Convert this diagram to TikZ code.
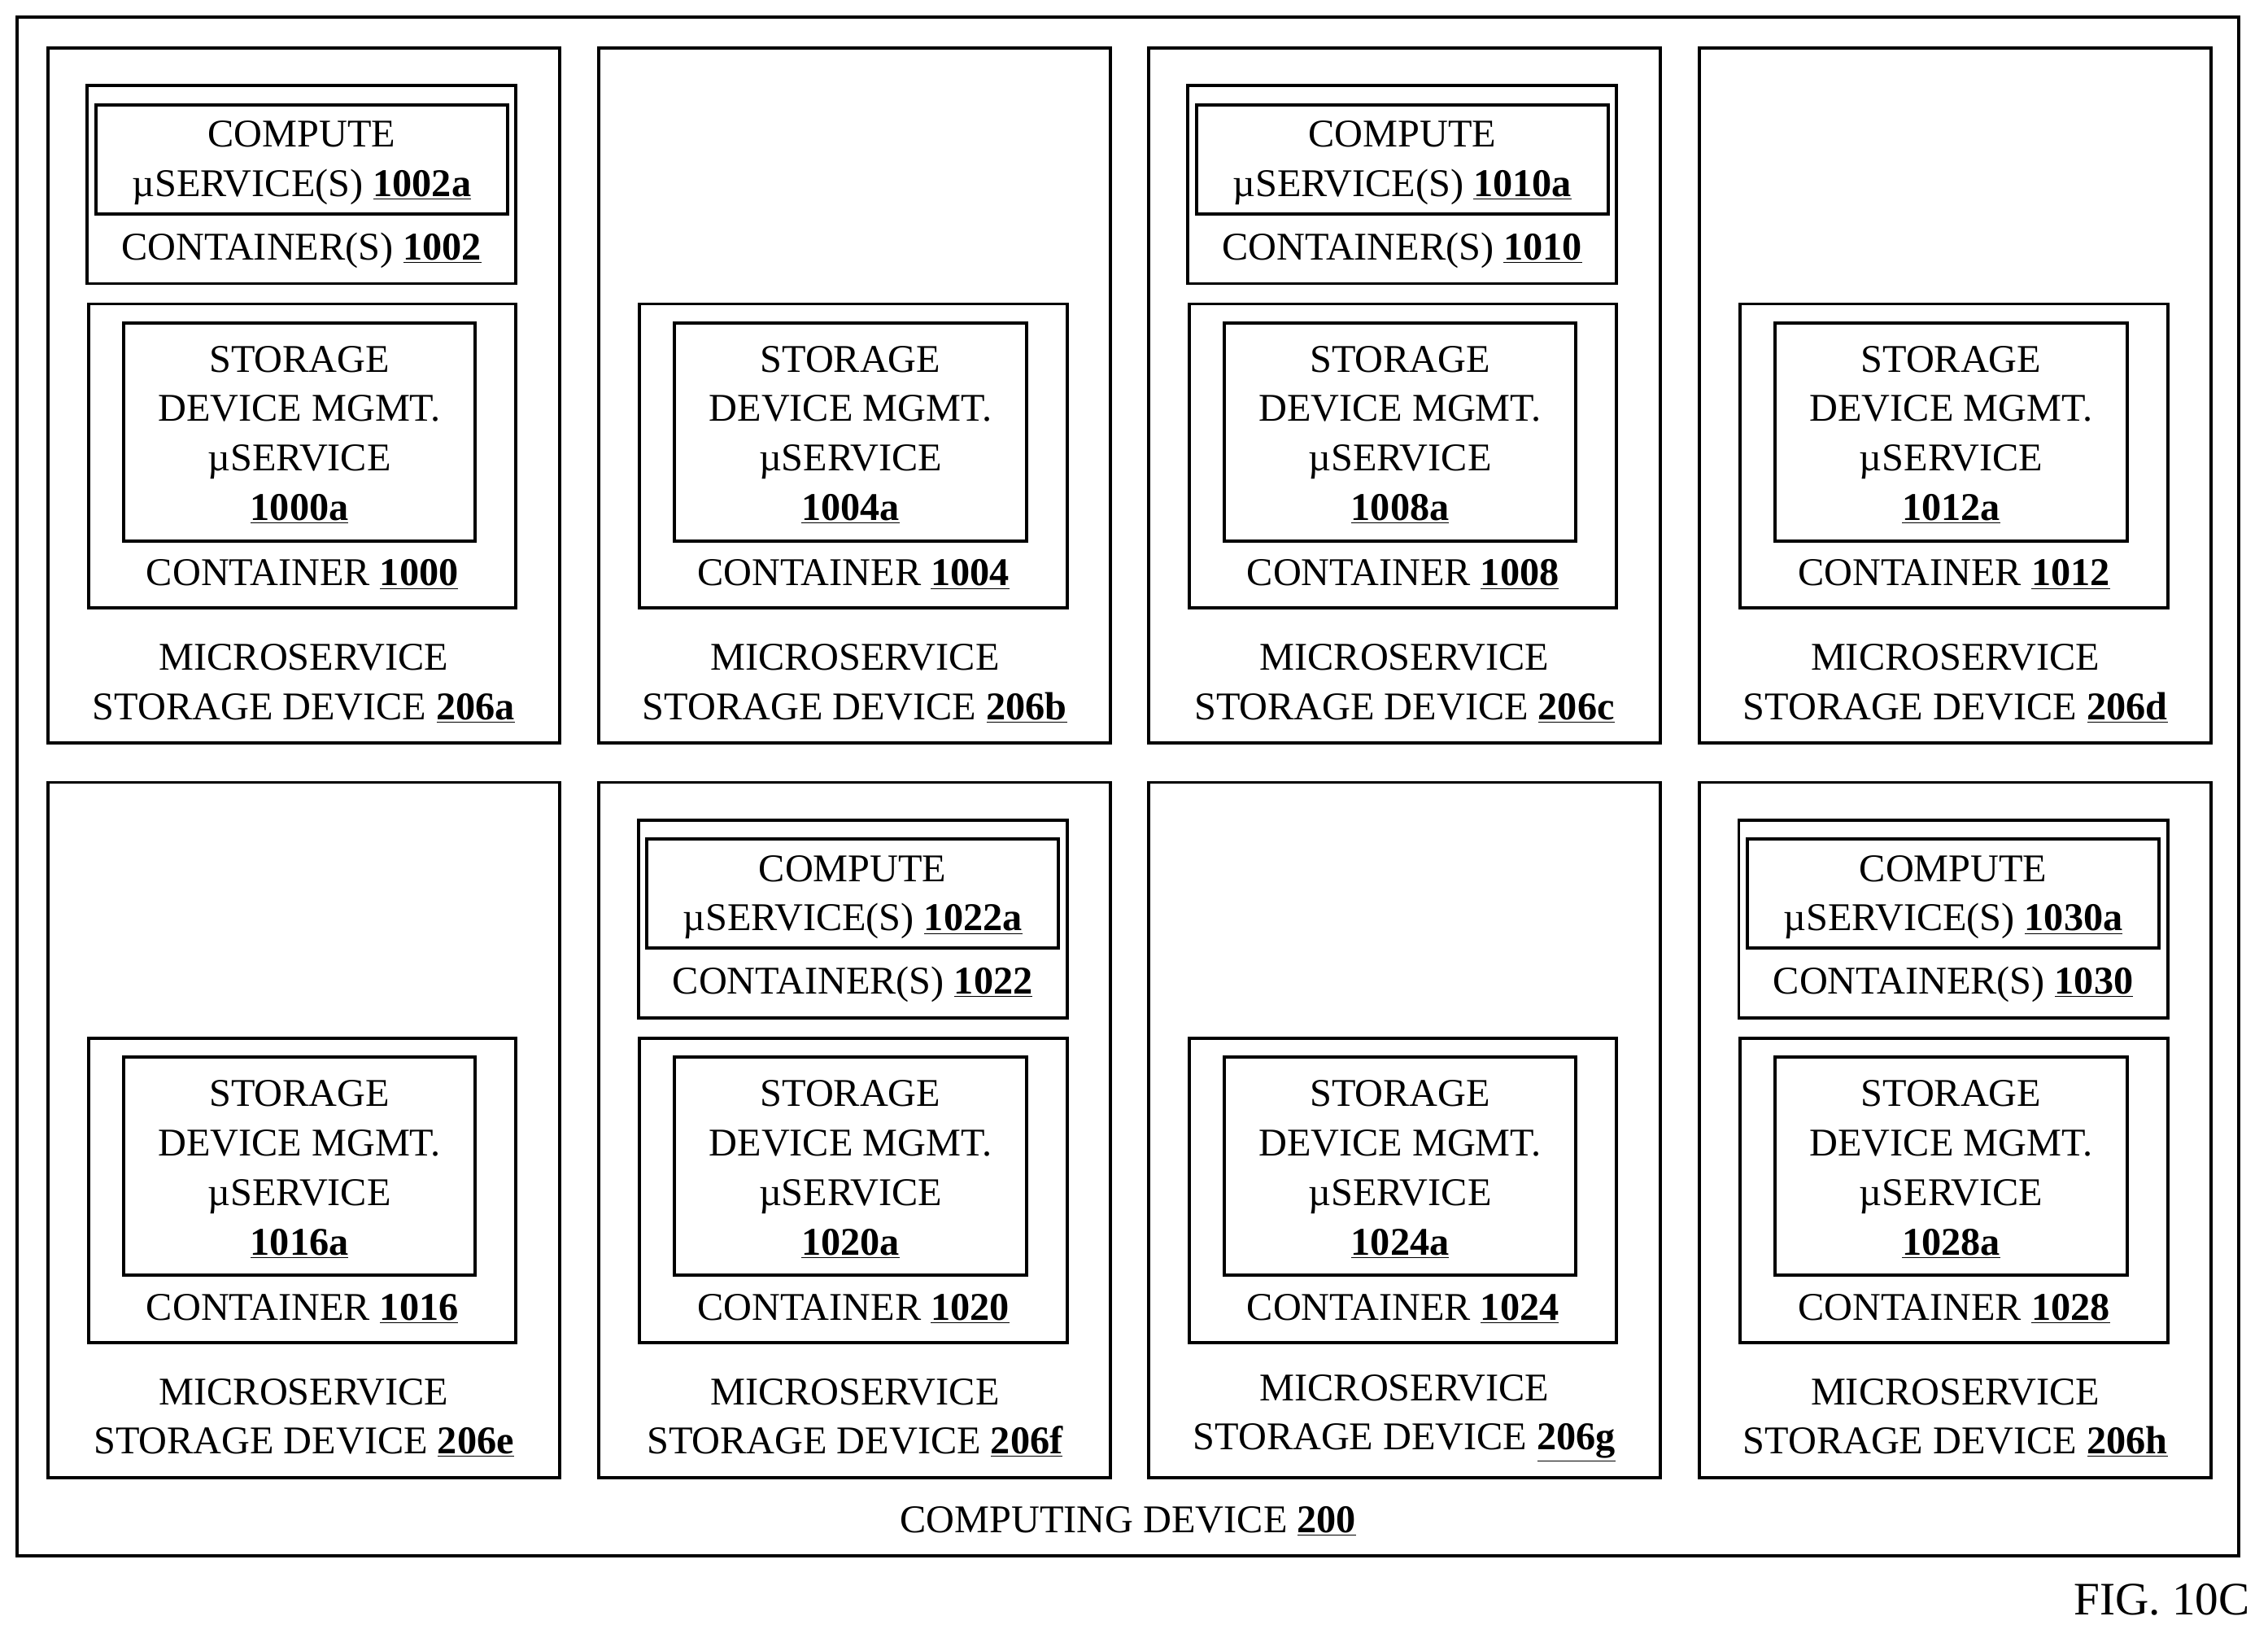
\documentclass[tikz,border=0pt]{standalone}
\usepackage{fontspec}
\setmainfont{Liberation Serif}
\usepackage{tikz}

\begin{document}
\begin{tikzpicture}[
   x=1pt, y=-1pt,
   devbox/.style={rectangle, draw=black, line width=2.2, minimum width=352, minimum height=478, inner sep=0},
   ctrbox/.style={rectangle, draw=black, line width=2.2, inner sep=0},
   lbl/.style={align=center, inner sep=0, font=\fontsize{27}{34}\selectfont}
  ]

  \useasboundingbox (0, 0) rectangle (1560, 1117);

  \node (cd) at (776, 541) [rectangle, draw=black, line width=2.2, minimum width=1528, minimum height=1058, inner sep=0] {};

  % x0 / y0 / device / compute (0 = none) / storage
  \foreach \X/\Y/\D/\C/\S in {33/33/206a/1002/1000, 412/33/206b/0/1004,
                               790/33/206c/1010/1008, 1169/33/206d/0/1012,
                               33/538/206e/0/1016, 412/538/206f/1022/1020,
                               790/538/206g/0/1024, 1169/538/206h/1030/1028} {
    \begin{scope}[shift={(\X, \Y)}]
      \node (dev\D) at (176, 239) [devbox] {};
      \node (stc\D) at (175, 280.5) [ctrbox, minimum width=294, minimum height=209] {};
      \node (sti\D) at (173, 264) [ctrbox, minimum width=242, minimum height=150] {};
      \node (sts\D) at (173, 266) [lbl] {STORAGE\\DEVICE MGMT.\\µSERVICE\\\textbf{\underline{\S a}}};
      \node (stl\D) at (175, 362) [lbl] {CONTAINER \textbf{\underline{\S}}};
      \node (dvl\D) at (176, 437) [lbl] {MICROSERVICE\\STORAGE DEVICE \textbf{\underline{\D}}};
      \ifnum\C>0
        \node (cpc\D) at (174.5, 94) [ctrbox, minimum width=295, minimum height=136] {};
        \node (cpi\D) at (174.5, 76.5) [ctrbox, minimum width=283, minimum height=75] {};
        \node (cps\D) at (174.5, 79) [lbl] {COMPUTE\\µSERVICE(S) \textbf{\underline{\C a}}};
        \node (cpl\D) at (174.5, 139) [lbl] {CONTAINER(S) \textbf{\underline{\C}}};
      \fi
    \end{scope}
  }

  \node (cdl) at (776, 1046) [lbl] {COMPUTING DEVICE \textbf{\underline{200}}};
  \node (fig) at (1487, 1100) [lbl, font=\fontsize{32}{38}\selectfont] {FIG. 10C};

\end{tikzpicture}
\end{document}
